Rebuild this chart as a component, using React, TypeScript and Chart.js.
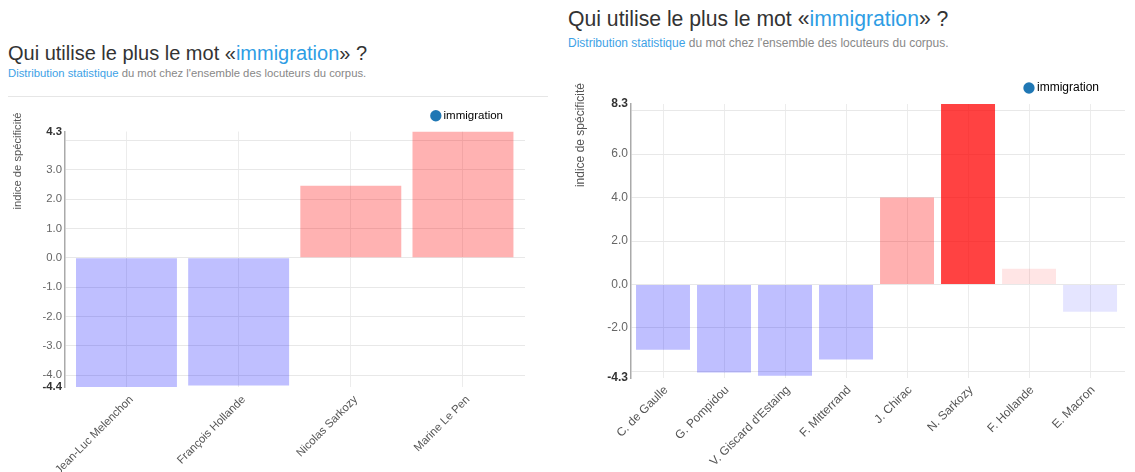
import React, { useEffect, useRef } from "react";
import { Chart, registerables } from "chart.js";

Chart.register(...registerables);

const FONT = "'Liberation Sans', Arial, Helvetica, sans-serif";
Chart.defaults.font.family = FONT;

// ---------- data ----------
const seriesName = "immigration";
const axisTitleText = "indice de spécificité";

const leftCategories = ["Jean-Luc Melenchon", "François Hollande", "Nicolas Sarkozy", "Marine Le Pen"];
const leftValues = [-4.4, -4.35, 2.45, 4.3];
const leftYBounds = [-4.4, 4.3];
const leftGridTicks = [-4, -3, -2, -1, 0, 1, 2, 3, 4];
const leftTickLabels = ["-4.4", "-4.0", "-3.0", "-2.0", "-1.0", "0.0", "1.0", "2.0", "3.0", "4.3"];

const rightCategories = [
  "C. de Gaulle",
  "G. Pompidou",
  "V. Giscard d'Estaing",
  "F. Mitterrand",
  "J. Chirac",
  "N. Sarkozy",
  "F. Hollande",
  "E. Macron",
];
const rightValues = [-3.0, -4.05, -4.2, -3.45, 4.0, 8.3, 0.72, -1.25];
const rightYBounds = [-4.3, 8.3];
const rightGridTicks = [-4, -2, 0, 2, 4, 6, 8];
const rightTickLabels = ["-4.3", "-2.0", "0.0", "2.0", "4.0", "6.0", "8.3"];

// ---------- styles ----------
const BLUE = "rgba(0,0,255,0.25)";
const PINK = "rgba(255,0,0,0.3)";
const leftColors = [BLUE, BLUE, PINK, PINK];
const rightColors = [
  BLUE,
  BLUE,
  BLUE,
  BLUE,
  "rgba(255,0,0,0.31)",
  "rgba(255,0,0,0.74)",
  "rgba(255,0,0,0.1)",
  "rgba(0,0,255,0.1)",
];

type PanelProps = {
  categories: string[];
  values: number[];
  colors: string[];
  bounds: number[];
  gridTicks: number[];
  tickLabels: string[];
  left: number;
  top: number;
  w: number;
  h: number;
  padRight: number;
  yAxisWidth: number;
  xAxisHeight: number;
  xMin: number;
  xMax: number;
  barPct: number;
  legendPad: number;
  legendSize: number;
  tickSize: number;
  axisTitleSize: number;
  axisTitleX: number;
  axisTitleRise: number;
  xTickPad: number;
  xLabelOffset: number;
};

function BarPanel(p: PanelProps) {
  const ref = useRef<HTMLCanvasElement>(null);
  useEffect(() => {
    if (!ref.current) return;
    const tickSet = [p.bounds[0], ...p.gridTicks, p.bounds[1]];
    const isBound = (v: number) => p.bounds.some((b) => Math.abs(b - v) < 1e-9);
    const axisTitlePlugin = {
      id: "axisTitleRotated",
      afterDraw(chart: any) {
        const ctx = chart.ctx;
        ctx.save();
        ctx.font = `${p.axisTitleSize}px ${FONT}`;
        ctx.fillStyle = "#555";
        ctx.translate(p.axisTitleX, chart.chartArea.top - p.axisTitleRise);
        ctx.rotate(-Math.PI / 2);
        ctx.textAlign = "right";
        ctx.textBaseline = "middle";
        ctx.fillText(axisTitleText, 0, 0);
        ctx.restore();
      },
    };
    const chart = new Chart(ref.current, {
      type: "bar",
      data: {
        datasets: [
          {
            label: seriesName,
            data: p.values.map((v, i) => ({ x: i, y: v })),
            backgroundColor: p.colors,
            borderWidth: 0,
            categoryPercentage: 1,
            barPercentage: p.barPct,
          } as any,
        ],
      },
      options: {
        animation: false,
        responsive: false,
        maintainAspectRatio: false,
        layout: { padding: { top: 0, right: p.padRight, bottom: 0, left: 0 } },
        plugins: {
          legend: {
            position: "top",
            align: "end",
            fullSize: false,
            labels: {
              usePointStyle: true,
              pointStyle: "circle",
              boxWidth: 4,
              boxHeight: 8,
              padding: p.legendPad,
              color: "#333",
              font: { size: p.legendSize, family: FONT },
              generateLabels: () => [
                {
                  text: seriesName,
                  fillStyle: "#1f77b4",
                  strokeStyle: "#1f77b4",
                  lineWidth: 0,
                  pointStyle: "circle",
                  hidden: false,
                  datasetIndex: 0,
                } as any,
              ],
            },
          },
          tooltip: { enabled: false },
        },
        scales: {
          x: {
            type: "linear",
            min: p.xMin,
            max: p.xMax,
            offset: false,
            afterBuildTicks: (s: any) => {
              s.ticks = p.categories.map((_, i) => ({ value: i }));
            },
            afterFit: (s: any) => {
              s.height = p.xAxisHeight;
            },
            ticks: {
              autoSkip: false,
              minRotation: 45,
              maxRotation: 45,
              padding: p.xTickPad,
              labelOffset: p.xLabelOffset,
              color: "#555",
              font: { size: p.tickSize, family: FONT },
              callback: (v: any) => p.categories[Math.round(Number(v))] ?? "",
            },
            grid: { color: "#ececec", drawTicks: false, offset: false },
            border: { display: false },
          },
          y: {
            type: "linear",
            min: p.bounds[0],
            max: p.bounds[1],
            afterBuildTicks: (s: any) => {
              s.ticks = tickSet.map((v) => ({ value: v }));
            },
            afterFit: (s: any) => {
              s.width = p.yAxisWidth;
            },
            ticks: {
              autoSkip: false,
              padding: 3,
              callback: (v: any) => {
                const t = Number(v).toFixed(1);
                return p.tickLabels.includes(t) ? t : "";
              },
              color: (c: any) => (c.tick && isBound(c.tick.value) ? "#333" : "#666"),
              font: (c: any) => ({
                size: p.tickSize,
                family: FONT,
                weight: c.tick && isBound(c.tick.value) ? "bold" : "normal",
              }),
            },
            grid: {
              color: (c: any) => (c.tick && isBound(c.tick.value) ? "rgba(0,0,0,0)" : "#e8e8e8"),
              drawTicks: false,
            },
            border: { display: true, color: "#aaa", width: 1.5 },
          },
        },
      } as any,
      plugins: [axisTitlePlugin],
    });
    return () => chart.destroy();
  }, []);
  return (
    <canvas
      ref={ref}
      width={p.w}
      height={p.h}
      style={{ position: "absolute", left: p.left, top: p.top, width: p.w, height: p.h }}
    />
  );
}

function Header(props: { left: number; top: number; titleSize: number; subSize: number; subTop: number }) {
  return (
    <>
      <div
        style={{
          position: "absolute",
          left: props.left,
          top: props.top,
          fontSize: props.titleSize,
          lineHeight: `${props.titleSize}px`,
          color: "#333",
          whiteSpace: "nowrap",
          fontFamily: FONT,
        }}
      >
        Qui utilise le plus le mot «<span style={{ color: "#2e9de4" }}>immigration</span>» ?
      </div>
      <div
        style={{
          position: "absolute",
          left: props.left,
          top: props.subTop,
          fontSize: props.subSize,
          lineHeight: `${props.subSize}px`,
          color: "#888",
          whiteSpace: "nowrap",
          fontFamily: FONT,
        }}
      >
        <span style={{ color: "#3ea2e6" }}>Distribution statistique</span> du mot chez l'ensemble des locuteurs du corpus.
      </div>
    </>
  );
}

export default function App() {
  return (
    <div
      style={{
        position: "absolute",
        left: 0,
        top: 0,
        width: 1135,
        height: 472,
        overflow: "hidden",
        background: "#fff",
      }}
    >
      <Header left={8} top={43} titleSize={20} subSize={11.3} subTop={68.4} />
      <div style={{ position: "absolute", left: 8, top: 96, width: 540, borderTop: "1px solid #e6e6e6" }} />
      <Header left={568} top={7.7} titleSize={21.2} subSize={12} subTop={36.5} />

      <BarPanel
        categories={leftCategories}
        values={leftValues}
        colors={leftColors}
        bounds={leftYBounds}
        gridTicks={leftGridTicks}
        tickLabels={leftTickLabels}
        left={0}
        top={88}
        w={535}
        h={384}
        padRight={10}
        yAxisWidth={65}
        xAxisHeight={85}
        xMin={-0.548}
        xMax={3.553}
        barPct={0.9}
        legendPad={22}
        legendSize={11.5}
        tickSize={11.3}
        axisTitleSize={11.2}
        axisTitleX={18}
        axisTitleRise={19}
        xTickPad={6}
        xLabelOffset={5}
      />
      <BarPanel
        categories={rightCategories}
        values={rightValues}
        colors={rightColors}
        bounds={rightYBounds}
        gridTicks={rightGridTicks}
        tickLabels={rightTickLabels}
        left={555}
        top={56}
        w={580}
        h={416}
        padRight={10}
        yAxisWidth={76}
        xAxisHeight={94}
        xMin={-0.5246}
        xMax={7.573}
        barPct={0.885}
        legendPad={26}
        legendSize={12}
        tickSize={12}
        axisTitleSize={12}
        axisTitleX={25.7}
        axisTitleRise={21}
        xTickPad={5}
        xLabelOffset={3}
      />
    </div>
  );
}
